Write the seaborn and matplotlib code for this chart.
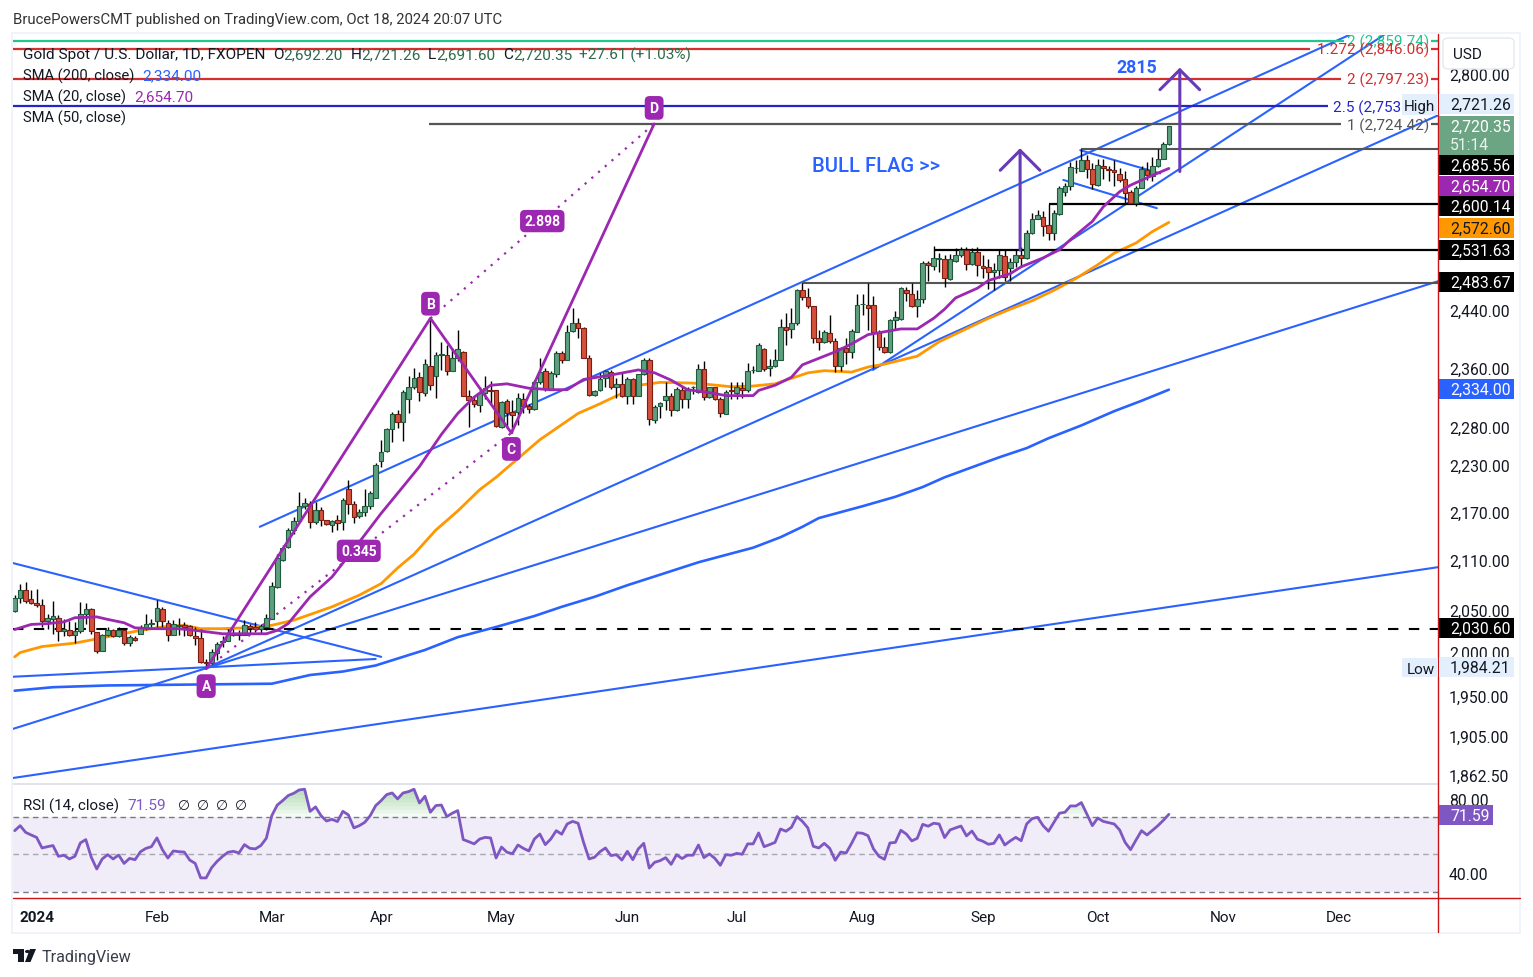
import matplotlib

matplotlib.use("Agg")

import matplotlib.patches as mpatches
import matplotlib.pyplot as plt
from matplotlib.lines import Line2D
from matplotlib.transforms import ScaledTranslation
import numpy as np
import pandas as pd
import seaborn as sns

OPENS = [
    2052, 2068, 2077, 2066, 2062, 2059, 2040, 2043, 2044, 2028,
    2030, 2024, 2028, 2048, 2054, 2027, 2005, 2023, 2029, 2022,
    2029, 2014, 2020, 2025, 2032, 2036, 2040, 2054, 2038, 2024,
    2034, 2035, 2034, 2022, 2020, 1992, 1991, 2003, 2015, 2017,
    2024, 2026, 2024, 2034, 2033, 2031, 2033, 2043, 2081, 2114,
    2130, 2151, 2162, 2181, 2184, 2161, 2176, 2163, 2157, 2163,
    2161, 2203, 2184, 2168, 2174, 2181, 2192, 2239, 2252, 2281,
    2301, 2290, 2321, 2337, 2351, 2330, 2367, 2353, 2382, 2381,
    2360, 2377, 2386, 2325, 2320, 2313, 2329, 2334, 2333, 2284,
    2319, 2304, 2304, 2322, 2312, 2308, 2345, 2360, 2334, 2356,
    2384, 2375, 2415, 2426, 2420, 2378, 2327, 2334, 2350, 2358,
    2337, 2342, 2326, 2349, 2326, 2355, 2375, 2293, 2312, 2320,
    2326, 2307, 2333, 2321, 2337, 2331, 2362, 2324, 2337, 2322,
    2301, 2333, 2329, 2336, 2334, 2361, 2360, 2390, 2363, 2367,
    2375, 2421, 2418, 2426, 2474, 2464, 2450, 2405, 2399, 2412,
    2401, 2366, 2391, 2386, 2414, 2453, 2452, 2452, 2414, 2393,
    2386, 2431, 2432, 2474, 2468, 2450, 2460, 2513, 2508, 2519,
    2518, 2489, 2516, 2524, 2532, 2511, 2528, 2508, 2506, 2500,
    2503, 2523, 2505, 2514, 2524, 2520, 2557, 2578, 2581, 2569,
    2557, 2585, 2619, 2627, 2655, 2651, 2668, 2654, 2629, 2659,
    2654, 2652, 2646, 2638, 2618, 2602, 2625, 2653, 2643, 2659,
    2670, 2692.20,
]
HIGHS = [
    2071, 2085, 2087, 2077, 2079, 2066, 2049, 2064, 2047, 2042,
    2040, 2039, 2063, 2061, 2055, 2027, 2025, 2033, 2031, 2033,
    2031, 2024, 2022, 2035, 2048, 2043, 2065, 2057, 2041, 2041,
    2044, 2039, 2035, 2033, 2031, 1996, 2007, 2015, 2022, 2031,
    2031, 2029, 2041, 2037, 2039, 2037, 2048, 2087, 2121, 2132,
    2154, 2167, 2199, 2191, 2188, 2186, 2180, 2164, 2163, 2170,
    2192, 2215, 2188, 2177, 2203, 2201, 2236, 2267, 2283, 2304,
    2306, 2333, 2353, 2364, 2358, 2376, 2431.50, 2386, 2399, 2395,
    2391, 2417, 2387, 2333, 2326, 2338, 2353, 2346, 2334, 2319,
    2321, 2320, 2329, 2329, 2315, 2347, 2378, 2363, 2359, 2387,
    2387, 2423, 2448, 2433, 2421, 2382, 2334, 2357, 2361, 2361,
    2350, 2358, 2351, 2350, 2356, 2378, 2377, 2313, 2318, 2344,
    2329, 2337, 2337, 2338, 2339, 2369, 2373, 2338, 2338, 2324,
    2333, 2345, 2344, 2344, 2370, 2366, 2398, 2392, 2376, 2390,
    2432, 2441, 2448, 2475, 2483.67, 2476, 2451, 2417, 2417, 2437,
    2405, 2393, 2405, 2418, 2468, 2468, 2483, 2465, 2417, 2406,
    2432, 2443, 2478, 2478, 2483, 2474, 2516, 2515, 2538, 2527,
    2524, 2526, 2534, 2536, 2536, 2534, 2536, 2524, 2519, 2513,
    2532, 2531.63, 2520, 2531, 2536, 2561, 2586, 2591, 2589, 2600.14,
    2591, 2628, 2632, 2665, 2668, 2685.56, 2676, 2663, 2670, 2670,
    2659, 2667, 2655, 2650, 2622, 2627, 2659, 2665, 2673, 2685,
    2696, 2721.26,
]
LOWS = [
    2051, 2062, 2062, 2060, 2057, 2033, 2031, 2025, 2017, 2022,
    2022, 2014, 2026, 2037, 2025, 2003, 2005, 2022, 2021, 2021,
    2012, 2011, 2017, 2025, 2030, 2033, 2033, 2033, 2016, 2024,
    2024, 2022, 2022, 2012, 1991, 1984.21, 1990, 1994, 2010, 2016,
    2022, 2018, 2023, 2025, 2027, 2025, 2030, 2042, 2080, 2112,
    2129, 2146, 2161, 2177, 2154, 2158, 2156, 2157, 2149, 2151,
    2151, 2171, 2160, 2166, 2169, 2177, 2191, 2231, 2251, 2264,
    2282, 2265, 2303, 2335, 2319, 2326, 2333, 2323, 2361, 2354,
    2359, 2373, 2325, 2284, 2311, 2304, 2321, 2315, 2284, 2282,
    2282, 2276, 2286, 2302, 2302, 2306, 2342, 2332, 2333, 2351,
    2370, 2374, 2414, 2405, 2377, 2326, 2326, 2332, 2338, 2335,
    2323, 2324, 2315, 2315, 2325, 2354, 2286, 2289, 2296, 2307,
    2299, 2305, 2309, 2309, 2328, 2330, 2320, 2323, 2320, 2297,
    2301, 2322, 2322, 2323, 2331, 2357, 2359, 2360, 2353, 2365,
    2375, 2396, 2405, 2424, 2459, 2448, 2398, 2388, 2398, 2398,
    2358, 2359, 2369, 2378, 2413, 2438, 2416, 2364, 2388, 2385,
    2384, 2417, 2431, 2458, 2449, 2435, 2455, 2486, 2503, 2500,
    2477, 2488, 2514, 2522, 2502, 2510, 2494, 2490, 2475, 2474,
    2491, 2486, 2487, 2507, 2507, 2518, 2556, 2577, 2553, 2546,
    2547, 2583, 2612, 2622, 2648, 2650, 2640, 2623, 2628, 2638,
    2636, 2628, 2634, 2601, 2600, 2597, 2624, 2637, 2635, 2657,
    2669, 2691.60,
]
CLOSES = [
    2067, 2077, 2064, 2062, 2059, 2040, 2044, 2046, 2028, 2031,
    2024, 2028, 2049, 2054, 2028, 2005, 2023, 2029, 2022, 2029,
    2014, 2021, 2018, 2033, 2036, 2038, 2055, 2040, 2024, 2036,
    2035, 2033, 2024, 2020, 1992, 1991, 2004, 2013, 2017, 2025,
    2025, 2024, 2035, 2032, 2031, 2034, 2044, 2082, 2116, 2129,
    2151, 2162, 2181, 2185, 2161, 2176, 2164, 2158, 2162, 2160,
    2189, 2184, 2167, 2174, 2181, 2198, 2234, 2251, 2281, 2301,
    2291, 2331, 2337, 2350, 2331, 2369, 2341, 2382, 2383, 2360,
    2378, 2390, 2326, 2320, 2315, 2330, 2336, 2332, 2285, 2318,
    2303, 2300, 2323, 2312, 2308, 2345, 2358, 2335, 2357, 2385,
    2375, 2413, 2426, 2420, 2378, 2327, 2332, 2349, 2360, 2337,
    2342, 2326, 2349, 2326, 2355, 2375, 2294, 2310, 2316, 2326,
    2307, 2335, 2321, 2333, 2337, 2362, 2324, 2337, 2322, 2302,
    2331, 2332, 2337, 2334, 2360, 2361, 2396, 2362, 2367, 2375,
    2421, 2416, 2427, 2473, 2464, 2451, 2405, 2400, 2414, 2401,
    2366, 2391, 2386, 2415, 2452, 2453, 2448, 2414, 2393, 2386,
    2431, 2435, 2476, 2469, 2451, 2460, 2513, 2509, 2520, 2519,
    2490, 2518, 2524, 2532, 2511, 2528, 2509, 2505, 2499, 2502,
    2524, 2492, 2514, 2525, 2520, 2557, 2578, 2583, 2567, 2557,
    2587, 2624, 2627, 2657, 2656, 2668, 2654, 2630, 2660, 2655,
    2652, 2649, 2637, 2617, 2602, 2625, 2654, 2645, 2659, 2670,
    2692, 2720.35,
]

RSI_VALUES = [
    62.8, 65.5, 61.9, 60.5, 59.2, 53.5, 54.2, 54.8, 49.0, 49.6, 47.6, 49.0, 56.2, 58.0, 48.5, 42.2,
    47.6, 49.9, 47.6, 49.7, 45.2, 47.9, 47.2, 51.5, 53.3, 54.2, 58.9, 52.6, 48.1, 51.9, 51.5, 51.3,
    47.0, 45.2, 37.4, 37.4, 42.9, 46.3, 49.0, 51.2, 51.7, 50.8, 55.3, 53.3, 53.0, 54.8, 58.7, 70.9,
    76.6, 79.0, 81.7, 82.9, 84.7, 85.1, 73.2, 75.6, 70.9, 68.0, 68.9, 67.7, 73.2, 71.3, 64.3, 65.5,
    67.3, 70.9, 76.3, 79.0, 82.2, 83.1, 79.9, 83.1, 83.8, 85.1, 77.7, 81.3, 72.7, 76.3, 76.6, 70.4,
    72.2, 73.6, 58.0, 56.9, 55.7, 58.3, 59.2, 58.9, 48.1, 54.0, 51.2, 50.4, 55.1, 53.3, 51.9, 58.3,
    61.0, 55.3, 58.3, 62.8, 60.9, 66.4, 67.8, 66.8, 56.5, 47.6, 48.5, 51.5, 53.5, 49.4, 49.9, 47.0,
    51.7, 47.2, 53.0, 56.0, 42.7, 45.8, 46.7, 48.3, 44.7, 49.9, 47.8, 49.6, 49.6, 55.1, 48.3, 50.3,
    47.9, 44.2, 49.9, 49.6, 50.6, 50.1, 55.7, 55.7, 61.6, 54.2, 55.3, 56.5, 63.7, 62.5, 64.6, 70.4,
    67.8, 64.3, 54.4, 53.5, 56.0, 53.3, 46.9, 51.3, 50.8, 56.0, 61.7, 61.4, 60.1, 53.0, 49.0, 47.4,
    56.2, 56.5, 63.0, 61.0, 57.3, 58.7, 66.2, 65.2, 66.8, 66.4, 59.1, 63.2, 64.3, 65.3, 60.0, 62.6,
    58.2, 57.1, 55.5, 56.0, 60.5, 55.1, 57.3, 59.2, 57.4, 66.4, 69.3, 70.0, 65.5, 62.5, 67.3, 72.2,
    72.7, 76.1, 76.1, 77.9, 71.8, 65.5, 69.6, 67.8, 67.1, 66.4, 63.2, 56.5, 52.6, 57.8, 62.8, 60.5,
    63.0, 65.5, 68.4, 71.59,
]

SMA20_BARS = [0, 3, 6, 9, 11, 15, 17, 20, 22, 25, 30, 33, 38, 46, 48, 50, 54, 58, 63, 67, 71, 74, 78, 81,
              84, 87, 90, 94, 98, 101, 104, 109, 114, 117, 120, 123, 127, 130, 135, 136, 139, 142, 144, 147,
              150, 153, 156, 159, 162, 165, 168, 170, 172, 176, 178, 182, 184, 188, 191, 193, 197, 199, 202,
              204, 208, 211]
SMA20_VALUES = [2030, 2036, 2037, 2039, 2044, 2045, 2042, 2038, 2032, 2031, 2031, 2029, 2025, 2025, 2029, 2037,
                2069, 2093, 2136, 2172, 2206, 2232, 2274, 2302, 2324, 2340, 2342, 2336, 2334, 2334, 2348, 2354,
                2361, 2357, 2347, 2334, 2330, 2326, 2326, 2333, 2340, 2351, 2368, 2377, 2386, 2397, 2410, 2414,
                2418, 2418, 2433, 2446, 2462, 2476, 2487, 2497, 2507, 2520, 2532, 2547, 2574, 2596, 2619,
                2629, 2644, 2654.70]

SMA50_BARS = [0, 1, 5, 11, 15, 19, 23, 27, 31, 34, 38, 42, 47, 51, 58, 63, 67, 70, 73, 77, 81, 85, 88, 96, 103,
              107, 111, 114, 118, 124, 127, 131, 135, 139, 145, 148, 153, 156, 159, 165, 169, 175, 178, 182, 186,
              190, 194, 198, 201, 205, 208, 211]
SMA50_VALUES = [1998, 2003, 2010, 2014, 2019, 2024, 2029, 2033, 2035, 2031, 2031, 2032, 2035, 2041, 2057, 2071,
                2085, 2104, 2121, 2151, 2175, 2202, 2218, 2267, 2302, 2315, 2329, 2340, 2344, 2343, 2341, 2338,
                2339, 2342, 2357, 2360, 2358, 2365, 2369, 2380, 2400, 2422, 2433, 2446, 2458, 2473, 2490, 2510,
                2527, 2542, 2559, 2572.60]

SMA200_BARS = [0, 7, 17, 47, 54, 60, 66, 69, 72, 75, 81, 88, 95, 100, 106, 112, 119, 125, 130, 135, 140, 144, 147,
               155, 161, 166, 170, 175, 180, 185, 189, 195, 201, 206, 211]
SMA200_VALUES = [1959, 1963, 1965, 1967, 1977, 1981, 1988, 1994, 2000, 2006, 2021, 2033, 2046, 2057, 2069, 2083,
                 2098, 2111, 2120, 2129, 2142, 2155, 2166, 2181, 2193, 2205.5, 2218, 2231, 2244, 2256, 2269, 2286,
                 2305, 2319, 2334.00]

# drawn trend lines: bar and price at both ends
TREND_BARS = [(-0.3, 67), (-0.3, 66), (-0.3, 260.2), (35, 260.2), (-0.3, 260.2), (44.8, 244.7), (156.9, 250.3),
              (194.8, 209.4), (191.7, 208.8)]
TREND_PRICES = [(2110, 1998), (1975, 1995.5), (1916, 2486), (1985, 2738), (1862, 2105), (2155, 2872), (2361, 2869),
                (2683, 2647), (2637, 2594)]

# ABCD pattern pivots
PIVOT_LABELS = ["A", "B", "C", "D"]
PIVOT_BARS = [35, 76, 90.8, 116.9]
PIVOT_PRICES = [1984.21, 2433, 2276, 2724.42]
PIVOT_RATIOS = ["0.345", "2.898"]

# levels: price, first bar, last bar
LEVEL_PRICES = [2483.67, 2531.63, 2600.14, 2685.56]
LEVEL_START_BARS = [144, 168, 189, 195]
FIB_PRICES = [2859.74, 2846.06, 2797.23, 2753, 2724.42]
FIB_NAMES = ["2 (2,859.74)", "1.272 (2,846.06)", "2 (2,797.23)", "2.5 (2,753", "1 (2,724.42)"]
SUPPORT_PRICE = 2030.60

ARROW_BARS = [183.8, 213]
ARROW_BASES = [2531.63, 2650]
ARROW_TIPS = [2686, 2815]

PRICE_TICKS = [1862.5, 1905, 1950, 2000, 2050, 2110, 2170, 2230, 2280, 2360, 2440, 2800]
RSI_TICKS = [40, 80]
MONTH_NAMES = ["2024", "Feb", "Mar", "Apr", "May", "Jun", "Jul", "Aug", "Sep", "Oct", "Nov", "Dec"]
MONTH_DAYS = ["2024-01-02", "2024-02-01", "2024-03-01", "2024-04-01", "2024-05-01", "2024-06-03", "2024-07-01",
              "2024-08-01", "2024-09-02", "2024-10-01", "2024-11-01", "2024-12-02"]

BLUE = "#2962ff"
PURPLE = "#9c27b0"
ORANGE = "#ff9800"
RSI_PURPLE = "#7e57c2"
W, H = 1533, 978

sns.set_theme(style="white")
plt.rcParams["font.family"] = ["Roboto", "DejaVu Sans"]
plt.rcParams["axes.unicode_minus"] = False

fig = plt.figure(figsize=(W / 100, H / 100), dpi=100, facecolor="white")


def pane(left, top, right, bottom):
    return fig.add_axes([left / W, 1 - bottom / H, (right - left) / W, (bottom - top) / H])


def fig_text(x, y, s, **kw):
    # y is the middle of the digits, text sits on its baseline so brackets do not move it
    kw.setdefault("va", "baseline")
    kw.setdefault("ha", "left")
    kw.setdefault("fontsize", 11)
    kw.setdefault("color", "#131722")
    return fig.text(x / W, 1 - (y + 5.3) / H, s, **kw)


def fig_box(x0, y0, x1, y1, color, zorder=5, ec="none"):
    rect = mpatches.Rectangle((x0 / W, 1 - y1 / H), (x1 - x0) / W, (y1 - y0) / H, transform=fig.transFigure,
                              fc=color, ec=ec, lw=1, zorder=zorder)
    fig.add_artist(rect)


def fig_line(xs, ys, color, lw=1.0):
    fig.add_artist(Line2D([x / W for x in xs], [1 - y / H for y in ys], color=color, lw=lw,
                          transform=fig.transFigure, zorder=4))


ax = pane(13, 36, 1438, 785)
ax_rsi = pane(13, 785, 1438, 899)

trading_days = pd.bdate_range("2023-12-26", "2024-12-31")
trading_days = trading_days[~trading_days.isin(pd.to_datetime(["2024-01-01", "2024-03-29"]))]
n_bars = len(CLOSES)
bars = np.arange(n_bars)
opens, highs, lows, closes = map(np.array, (OPENS, HIGHS, LOWS, CLOSES))

ax.set_yscale("log")
ax.set_ylim(1855.5, 2869)
ax.set_xlim(-0.31, 260.2)

for start_end, price_pair in zip(TREND_BARS, TREND_PRICES):
    ax.plot(start_end, price_pair, color=BLUE, lw=1.5, zorder=2)

sns.lineplot(x=SMA200_BARS, y=SMA200_VALUES, ax=ax, color=BLUE, linewidth=1.9, legend=False, zorder=2.2)
sns.lineplot(x=SMA50_BARS, y=SMA50_VALUES, ax=ax, color=ORANGE, linewidth=2.0, legend=False, zorder=2.2)
ax.axhline(SUPPORT_PRICE, color="black", lw=1.5, ls=(0, (5, 5)), zorder=2)

up = closes >= opens
ax.vlines(bars, lows, highs, color="black", lw=1.0, zorder=3)
ax.bar(bars[up], np.maximum(closes[up] - opens[up], 0.4), bottom=opens[up], width=0.84, color="#5f9e7e",
       edgecolor="#1c5c3c", linewidth=0.8, zorder=3.2)
ax.bar(bars[~up], np.maximum(opens[~up] - closes[~up], 0.4), bottom=closes[~up], width=0.84, color="#d4503c",
       edgecolor="#7a1e12", linewidth=0.8, zorder=3.2)

sns.lineplot(x=SMA20_BARS, y=SMA20_VALUES, ax=ax, color=PURPLE, linewidth=2.0, legend=False, zorder=3.5)

# ABCD pattern
ax.plot(PIVOT_BARS, PIVOT_PRICES, color=PURPLE, lw=2.0, zorder=3.6)
for first, second, ratio in zip((0, 1), (2, 3), PIVOT_RATIOS):
    xs = (PIVOT_BARS[first], PIVOT_BARS[second])
    ys = (PIVOT_PRICES[first], PIVOT_PRICES[second])
    ax.plot(xs, ys, color=PURPLE, lw=1.6, ls=(0, (1, 3)), zorder=3.6)
    ax.text(sum(xs) / 2, np.sqrt(ys[0] * ys[1]), ratio, color="white", ha="center", va="center", fontsize=10,
            fontweight="bold", zorder=6,
            bbox=dict(boxstyle="round,pad=0.3,rounding_size=0.35", fc=PURPLE, ec="none"))
for label, bar, price, shift in zip(PIVOT_LABELS, PIVOT_BARS, PIVOT_PRICES, (-12.5, 10.5, -11.5, 11.5)):
    ax.annotate(label, (bar, price), xytext=(0, shift), textcoords="offset points", color="white", ha="center",
                va="center", fontsize=10, fontweight="bold", zorder=6,
                bbox=dict(boxstyle="round,pad=0.35,rounding_size=0.35", fc=PURPLE, ec="none"))

# horizontal levels
x_end = ax.get_xlim()[1]
for price, start, color, lw in zip(LEVEL_PRICES, LEVEL_START_BARS, ("#555555", "black", "black", "#555555"),
                                   (1.5, 1.6, 1.6, 1.5)):
    ax.hlines(price, start, x_end, color=color, lw=lw, zorder=2.5)

fib_colors = ["#22c78f", "#d32f2f", "#d32f2f", "#2424c8", "#555555"]
fib_starts = [-0.31, -0.31, -0.31, -0.31, 75.8]
fib_ends = [243, 236.8, 242.5, 240, 242.5]
fib_label_x = [1429, 1429, 1429, 1401, 1429]
for price, name, color, start, end, label_x in zip(FIB_PRICES, FIB_NAMES, fib_colors, fib_starts, fib_ends,
                                                   fib_label_x):
    ax.hlines(price, start, end, color=color, lw=1.6, zorder=2.4)
    y_px = ax.transData.transform((0, price))[1]
    fig.text(label_x / W, y_px / H - 1 / H, name, color=color, ha="right", va="center", fontsize=11, zorder=6)
    if name != "2.5 (2,753":
        ax.hlines(price, 259, x_end, color=color, lw=1.6, zorder=2.4)

# projected move arrows
for bar, base, tip in zip(ARROW_BARS, ARROW_BASES, ARROW_TIPS):
    ax.annotate("", xy=(bar, tip), xytext=(bar, base), zorder=3.8,
                arrowprops=dict(arrowstyle="->,head_length=1.02,head_width=1.02", color="#673ab7", lw=2.2,
                                mutation_scale=14, shrinkA=0, shrinkB=0))

ax.yaxis.tick_right()
ax.set_yticks(PRICE_TICKS)
ax.set_yticklabels([f"{tick:,.2f}" for tick in PRICE_TICKS])
ax.minorticks_off()
ax.tick_params(axis="y", length=0, pad=8, labelsize=11.3, colors="#131722")
ax.tick_params(axis="x", length=0, labelbottom=False)
label_lift = ScaledTranslation(0, 2.2 / 72, fig.dpi_scale_trans)
for tick_label in ax.get_yticklabels():
    tick_label.set_transform(tick_label.get_transform() + label_lift)
for spine in ax.spines.values():
    spine.set_visible(False)

# RSI pane
rsi = np.array(RSI_VALUES)
rsi_bars = np.arange(n_bars - len(rsi), n_bars)
ax_rsi.set_ylim(26.6, 87.9)
ax_rsi.set_xlim(ax.get_xlim())
ax_rsi.axhspan(30, 70, color=RSI_PURPLE, alpha=0.11, lw=0, zorder=1)
for level, tone in zip((70, 50, 30), ("#787b86", "#a8a8b0", "#787b86")):
    ax_rsi.axhline(level, color=tone, lw=1.0, ls=(0, (4, 3)), zorder=1.5)
for floor in range(70, 85, 2):
    ax_rsi.fill_between(rsi_bars, floor, rsi, where=rsi > floor, interpolate=True, color="#4caf50", alpha=0.06,
                        lw=0, zorder=1.7)
sns.lineplot(x=rsi_bars, y=rsi, ax=ax_rsi, color=RSI_PURPLE, linewidth=2.0, legend=False, zorder=2)

ax_rsi.yaxis.tick_right()
ax_rsi.set_yticks(RSI_TICKS)
ax_rsi.set_yticklabels([f"{tick:.2f}" for tick in RSI_TICKS])
ax_rsi.tick_params(axis="y", length=0, pad=8, labelsize=11.3, colors="#131722")
month_idx = [trading_days.get_loc(pd.Timestamp(day)) for day in MONTH_DAYS]
ax_rsi.set_xticks(month_idx)
ax_rsi.set_xticklabels(MONTH_NAMES)
ax_rsi.tick_params(axis="x", length=0, pad=8.5, labelsize=11, colors="#131722")
ax_rsi.get_xticklabels()[0].set_fontweight("bold")
for spine in ax_rsi.spines.values():
    spine.set_visible(False)

# frame and separators
frame = "#f0f3fa"
fig_box(12, 33, 1521, 35, frame, 1)
fig_box(12, 933, 1521, 935, frame, 1)
fig_box(11, 33, 13, 935, frame, 1)
fig_box(1519, 33, 1521, 935, frame, 1)
fig_box(13, 784, 1438, 785.5, "#e0e3eb", 1)
fig_line([1438, 1438], [35, 933], "#c81414", 1.0)
fig_line([13, 1520], [899, 899], "#c81414", 1.0)

# header and legend
fig_text(13, 19, "BrucePowersCMT published on TradingView.com, Oct 18, 2024 20:07 UTC", fontsize=10.7, color="#333333")
fig_text(23, 54, "Gold Spot / U.S. Dollar, 1D, FXOPEN", fontsize=11.1, zorder=6)
value_green = "#2d6b4a"
for key, key_x, value, value_x in (("O", 273, "2,692.20", 283), ("H", 351, "2,721.26", 361),
                                   ("L", 428, "2,691.60", 436), ("C", 503, "2,720.35", 513)):
    fig_text(key_x, 54, key, fontsize=11.1, zorder=6)
    fig_text(value_x, 54, value, color=value_green, fontsize=11.1, zorder=6)
fig_text(579, 54, "+27.61 (+1.03%)", color=value_green, fontsize=11.1, zorder=6)
fig_text(23, 75, "SMA (200, close)", fontsize=10.6, zorder=6)
fig_text(142, 75, "2,334.00", color=BLUE, fontsize=11.1, zorder=6)
fig_text(23, 96, "SMA (20, close)", fontsize=10.6, zorder=6)
fig_text(134, 96, "2,654.70", color=PURPLE, fontsize=11.1, zorder=6)
fig_text(23, 117, "SMA (50, close)", fontsize=10.6, zorder=6)
fig_text(23, 805, "RSI (14, close)", fontsize=10.9, zorder=6)
fig_text(127, 805, "71.59", color=RSI_PURPLE, fontsize=11.1, zorder=6)
for mark_x in (178, 197, 216, 235):
    fig_text(mark_x, 805, "\u2205", zorder=6, fontsize=10)

fig_text(1137, 67.5, "2815", color=BLUE, fontsize=12.8, fontweight="bold", ha="center", zorder=6)
fig_text(876, 166.5, "BULL FLAG >>", color=BLUE, fontsize=14.5, fontweight="medium", ha="center", zorder=6)

# price tags
tags = [
    (166, "2,685.56", "black", "white"),
    (187, "2,654.70", PURPLE, "white"),
    (207, "2,600.14", "black", "white"),
    (229, "2,572.60", ORANGE, "#131722"),
    (251, "2,531.63", "black", "white"),
    (283, "2,483.67", "black", "white"),
    (390, "2,334.00", BLUE, "white"),
    (629, "2,030.60", "black", "white"),
    (668, "1,984.21", "#e3effd", "#131722"),
    (105, "2,721.26", "#e3effd", "#131722"),
]
for tag_y, tag_text, tag_bg, tag_fg in tags:
    fig_box(1439, tag_y - 10, 1514, tag_y + 10, tag_bg)
    fig_text(1450, tag_y, tag_text, color=tag_fg, fontsize=11.3, zorder=6)
fig_box(1439, 117, 1514, 156, "#6ba583")
fig_text(1450, 127, "2,720.35", color="white", fontsize=11.3, zorder=6)
fig_text(1450, 145, "51:14", color="#e8f3ec", fontsize=11.3, zorder=6)
fig_box(1439, 806, 1493, 826, RSI_PURPLE)
fig_text(1450, 816, "71.59", color="white", fontsize=11.3, zorder=6)
fig_box(1402, 95, 1438, 116, "#e3effd", 5.5)
fig_text(1404, 106, "High", fontsize=11, zorder=6)
fig_box(1402, 659, 1438, 678, "#e3effd")
fig_text(1407, 669, "Low", fontsize=11, zorder=6)

# currency button sits over the top tick label
fig_box(1440, 36, 1518, 70, "white", 5.4)
usd = mpatches.FancyBboxPatch((1443 / W, 1 - 70 / H), 71 / W, 31 / H, transform=fig.transFigure, fc="white",
                              ec="#e6e8ee", lw=1, zorder=5.5,
                              boxstyle=mpatches.BoxStyle("Round", pad=0, rounding_size=0.004))
fig.add_artist(usd)
fig_text(1467, 54, "USD", ha="center", fontsize=11, zorder=6)

# TradingView mark
logo = "#131722"
fig_box(13, 950, 24, 955, logo, 6)
fig_box(18, 950, 24, 963, logo, 6)
fig.add_artist(mpatches.Circle((27.5 / W, 1 - 952.5 / H), 2.5 / W, transform=fig.transFigure, fc=logo, ec="none",
                               zorder=6))
fig.add_artist(mpatches.Polygon([(30 / W, 1 - 950 / H), (36 / W, 1 - 950 / H), (30.5 / W, 1 - 963 / H),
                                 (25 / W, 1 - 963 / H)], transform=fig.transFigure, fc=logo, ec="none", zorder=6))
fig_text(42, 957, "TradingView", fontsize=11.6, color="#3a3e4a")

fig.savefig("out.png", dpi=100, facecolor="white")
